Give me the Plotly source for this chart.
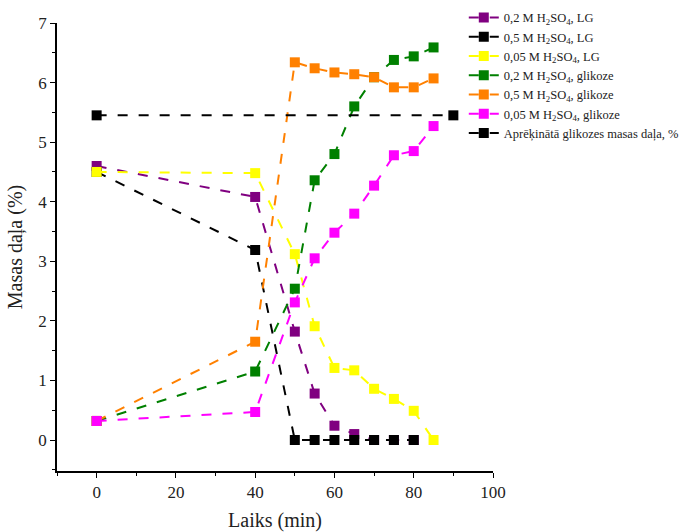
import plotly.graph_objects as go

# Sampling times (min)
t_lg = [0, 40, 50, 55, 60, 65, 70, 75, 80]
t_full = [0, 40, 50, 55, 60, 65, 70, 75, 80, 85]
t_calc = [0, 90]

# Mass fractions (%)
lg_02 = [4.60, 4.08, 1.82, 0.78, 0.24, 0.10, 0.0, 0.0, 0.0]
lg_05 = [4.50, 3.19, 0.0, 0.0, 0.0, 0.0, 0.0, 0.0, 0.0]
lg_005 = [4.50, 4.48, 3.12, 1.91, 1.21, 1.17, 0.86, 0.69, 0.49, 0.0]
glc_02 = [0.32, 1.15, 2.54, 4.36, 4.80, 5.60, 6.09, 6.38, 6.44, 6.59]
glc_05 = [0.32, 1.65, 6.34, 6.24, 6.17, 6.14, 6.09, 5.92, 5.92, 6.07]
glc_005 = [0.32, 0.47, 2.31, 3.05, 3.48, 3.80, 4.27, 4.78, 4.85, 5.27]
calc_glc = [5.45, 5.45]

names = [
    "0,2 M H<sub>2</sub>SO<sub>4</sub>, LG",
    "0,5 M H<sub>2</sub>SO<sub>4</sub>, LG",
    "0,05 M H<sub>2</sub>SO<sub>4</sub>, LG",
    "0,2 M H<sub>2</sub>SO<sub>4</sub>, glikoze",
    "0,5 M H<sub>2</sub>SO<sub>4</sub>, glikoze",
    "0,05 M H<sub>2</sub>SO<sub>4</sub>, glikoze",
    "Aprēķinātā glikozes masas daļa, %",
]
colors = ["#800080", "#000000", "#FFFF00", "#008000", "#FF8000", "#FF00FF", "#000000"]
xs = [t_lg, t_lg, t_full, t_full, t_full, t_full, t_calc]
ys = [lg_02, lg_05, lg_005, glc_02, glc_05, glc_005, calc_glc]

font = "Liberation Serif"
txt = "#222222"

fig = go.Figure()
for x, y, n, c in zip(xs, ys, names, colors):
    fig.add_trace(go.Scatter(
        x=x, y=y, name=n, mode="lines+markers",
        line=dict(color=c, width=2, dash="10px,11px"),
        marker=dict(symbol="square", size=10, color=c),
    ))

fig.update_layout(
    width=685, height=532,
    margin=dict(l=57, r=192, t=23, b=61, autoexpand=False),
    paper_bgcolor="white", plot_bgcolor="white",
    font=dict(family=font, color=txt),
    showlegend=True,
    legend=dict(
        x=0.933, y=1.045, xanchor="left", yanchor="top",
        font=dict(family=font, size=12.5, color=txt),
        bgcolor="rgba(0,0,0,0)", tracegroupgap=0, itemwidth=30,
    ),
    xaxis=dict(
        range=[-10, 100], tickmode="array", tickvals=[0, 20, 40, 60, 80, 100],
        ticks="outside", ticklen=5, tickwidth=1, tickcolor="black",
        minor=dict(tickmode="array", tickvals=[-10, 10, 30, 50, 70, 90],
                   ticks="outside", ticklen=3, tickcolor="black"),
        showline=True, linecolor="black", linewidth=1.5,
        showgrid=False, zeroline=False,
        tickfont=dict(family=font, size=17, color=txt),
        title=dict(text="Laiks (min)", font=dict(family=font, size=20, color=txt), standoff=16),
    ),
    yaxis=dict(
        range=[-0.52, 7], tickmode="array", tickvals=[0, 1, 2, 3, 4, 5, 6, 7],
        ticks="outside", ticklen=5, tickwidth=1, tickcolor="black",
        minor=dict(tickmode="array", tickvals=[-0.5, 0.5, 1.5, 2.5, 3.5, 4.5, 5.5, 6.5],
                   ticks="outside", ticklen=3, tickcolor="black"),
        showline=True, linecolor="black", linewidth=1.5,
        showgrid=False, zeroline=False,
        tickfont=dict(family=font, size=17, color=txt),
        title=dict(text="Masas daļa (%)", font=dict(family=font, size=20, color=txt), standoff=10),
    ),
)

fig.write_html("out.html")
